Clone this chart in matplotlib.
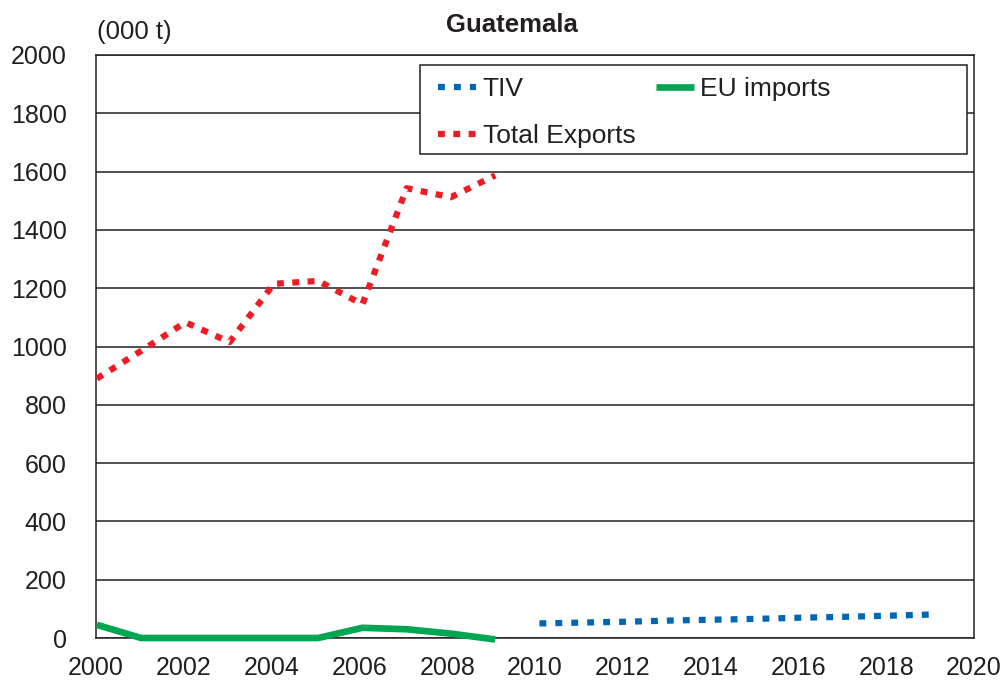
import matplotlib.pyplot as plt
from matplotlib.patches import Rectangle

plt.rcParams['font.family'] = ['Liberation Sans', 'DejaVu Sans']

years_exp = [2000, 2001, 2002, 2003, 2004, 2005, 2006, 2007, 2008, 2009]
total_exports = [890, 985, 1083, 1015, 1215, 1225, 1145, 1543, 1512, 1587]
eu_imports = [45, 0, 0, 0, 0, 0, 35, 30, 15, -5]
years_tiv = [2010, 2011, 2012, 2013, 2014, 2015, 2016, 2017, 2018, 2019]
tiv = [50, 53, 56, 60, 63, 66, 70, 73, 77, 81]
x_ticks = list(range(2000, 2021, 2))
y_ticks = list(range(0, 2001, 200))

RED = "#ED1C24"
BLUE = "#0067B4"
GREEN = "#00A651"
INK = "#231F20"

fig = plt.figure(figsize=(10.08, 6.82), dpi=100)
ax = fig.add_axes([96/1008, 1-638/682, 878/1008, 583/682])
ax.set_xlim(2000, 2020)
ax.set_ylim(0, 2000)
ax.set_xticks(x_ticks)
ax.set_yticks(y_ticks)
ax.tick_params(axis='both', length=0, labelsize=18, colors=INK)
ax.tick_params(axis='x', pad=13)
ax.tick_params(axis='y', pad=21)
ax.grid(axis='y', color=INK, linewidth=1.1)
ax.set_axisbelow(True)
for s in ax.spines.values():
    s.set_color(INK)
    s.set_linewidth(1.1)

# data axis: Excel category spacing is a bit wider than the year axis
dax = ax.twiny()
l_tiv, = dax.plot(years_tiv, tiv, color=BLUE, lw=4.5, linestyle=(0, (1.1, 1.45)),
                  dash_capstyle='butt', clip_on=False, label='TIV')
l_exp, = dax.plot(years_exp, total_exports, color=RED, lw=4.5, linestyle=(0, (1.1, 1.35)),
                  dash_capstyle='butt', clip_on=False, label='Total Exports')
l_eu, = dax.plot(years_exp, eu_imports, color=GREEN, lw=4.8, solid_capstyle='butt',
                 solid_joinstyle='miter', clip_on=False, label='EU imports')
dax.set_xlim(1999.98, 2019.82)
dax.set_ylim(0, 2000)
dax.axis('off')

# legend box drawn by hand so the frame can be wider than the entries
box = Rectangle(((420-96)/878, (638-154)/583), (967-420)/878, (154-65)/583,
                transform=ax.transAxes, facecolor='white', edgecolor=INK,
                linewidth=1.1, zorder=5)
ax.add_patch(box)
leg = dax.legend(handles=[l_tiv, l_exp, l_eu], ncol=2, frameon=False, fontsize=19,
                 loc='upper left', bbox_to_anchor=((420-96)/878, (638-59)/583),
                 bbox_transform=ax.transAxes, handlelength=1.44, handletextpad=0.23,
                 columnspacing=0.8, labelspacing=0.85, borderpad=0.2)
leg.set_zorder(6)
for t in leg.get_texts():
    t.set_color(INK)

fig.text(512/1008, 1-25/682, 'Guatemala', ha='center', va='center',
         fontsize=18.5, fontweight='bold', color=INK)
fig.text(97/1008, 1-32/682, '(000 t)', ha='left', va='center',
         fontsize=18.5, color=INK)

fig.savefig('out.png', dpi=100)
